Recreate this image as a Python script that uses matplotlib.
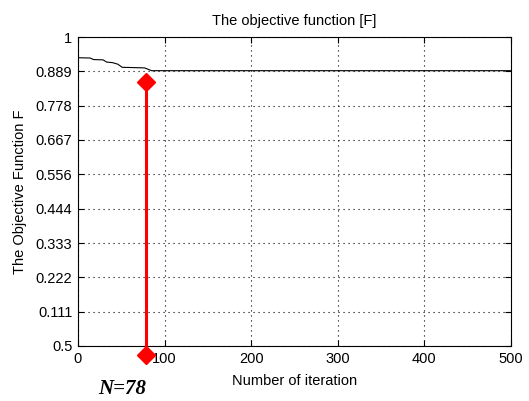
import matplotlib
matplotlib.use("Agg")
import matplotlib.pyplot as plt

plt.rcParams['font.family'] = ['Liberation Sans', 'DejaVu Sans']

# objective function history
iterations = [0, 14, 18, 29, 33, 40, 46, 51, 77, 85, 500]
objective = [0.933, 0.932, 0.927, 0.926, 0.919, 0.917, 0.912, 0.902, 0.900, 0.891, 0.891]

# converged iteration marker
n_conv = 78
stem_top = 0.855
stem_bottom = -0.03

xticks = [0, 100, 200, 300, 400, 500]
yticks = [0, 0.111, 0.222, 0.333, 0.444, 0.556, 0.667, 0.778, 0.889, 1]
ytick_labels = ['0.5', '0.111', '0.222', '0.333', '0.444', '0.556',
                '0.667', '0.778', '0.889', '1']

fig = plt.figure(figsize=(5.29, 4.01), dpi=100)
ax = fig.add_axes([0.1474, 0.1372, 0.8186, 0.7705])

ax.plot(iterations, objective, color='black', lw=0.8)
ax.plot([n_conv, n_conv], [stem_bottom, stem_top], color='red', lw=2.2,
        marker='D', markersize=9, clip_on=False, zorder=5)

ax.set_xlim(0, 500)
ax.set_ylim(0, 1)
ax.set_xticks(xticks)
ax.set_yticks(yticks)
ax.set_yticklabels(ytick_labels)
ax.tick_params(direction='in', top=True, right=True, labelsize=10.5,
               length=4, width=0.8, pad=4)
ax.grid(True, color='black', linestyle=(0, (1, 3.5)), lw=0.8)
for sp in ax.spines.values():
    sp.set_linewidth(0.8)

ax.set_title('The objective function [F]', fontsize=10.5, pad=9)
ax.set_xlabel('Number of iteration', fontsize=10.5, labelpad=6)
ax.set_ylabel('The Objective Function F', fontsize=10.5, labelpad=6)

fig.text(0.231, 0.017, 'N=78', fontsize=15, fontweight='bold', fontstyle='italic',
         family=['Liberation Serif'], ha='center', va='baseline')

fig.savefig('out.png', dpi=100)
